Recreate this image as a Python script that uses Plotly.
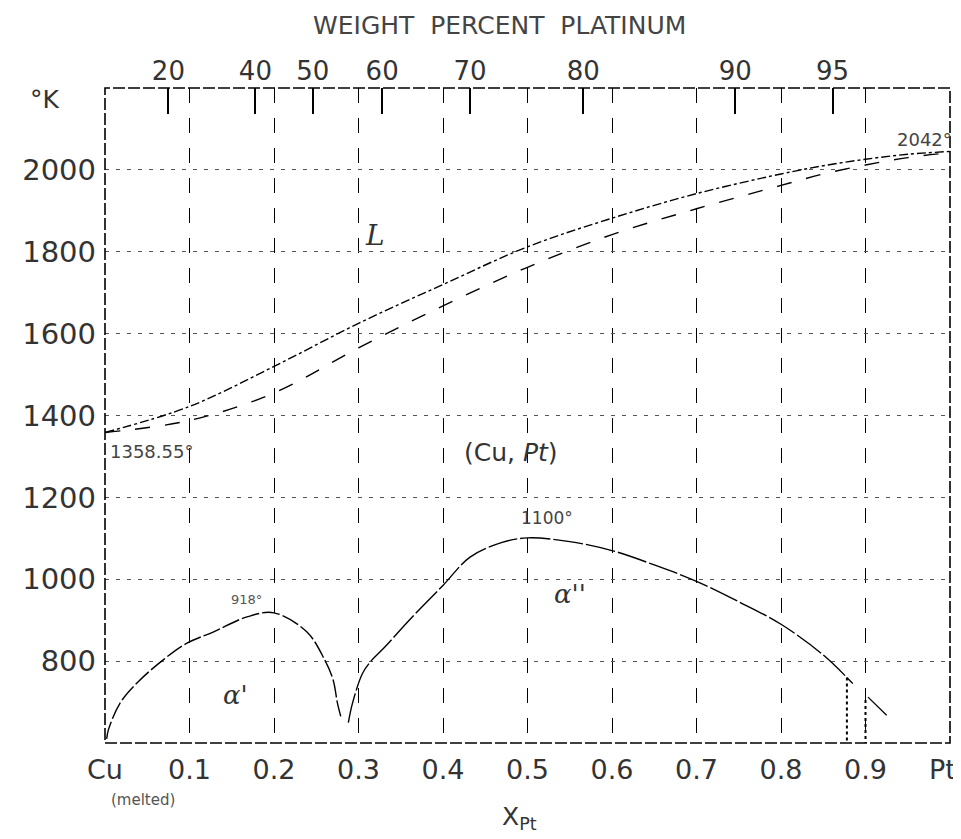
import plotly.graph_objects as go

# ---------------- data ----------------
liquidus_x = [0.0, 0.1, 0.2, 0.3, 0.4, 0.5, 0.6, 0.7, 0.8, 0.85, 0.9, 0.95, 1.0]
liquidus_T = [1358.55, 1422, 1520, 1625, 1720, 1812, 1882, 1942, 1990, 2010, 2026, 2038, 2045]

solidus_x = [0.0, 0.1, 0.2, 0.3, 0.4, 0.5, 0.6, 0.7, 0.8, 0.85, 0.9, 0.95, 1.0]
solidus_T = [1358.55, 1388, 1455, 1565, 1668, 1762, 1842, 1905, 1962, 1990, 2012, 2030, 2042]

alpha1_x = [0.002, 0.004, 0.018, 0.039, 0.07, 0.097, 0.128, 0.168, 0.2, 0.239, 0.26, 0.27, 0.275, 0.279]
alpha1_T = [610, 632, 698, 749, 805, 844, 871, 908, 918, 871, 803, 754, 698, 665]

alpha2_x = [0.288, 0.293, 0.305, 0.316, 0.33, 0.36, 0.4, 0.432, 0.47, 0.5, 0.55, 0.6, 0.65, 0.7, 0.75, 0.8, 0.85, 0.885]
alpha2_T = [650, 698, 771, 803, 832, 900, 985, 1054, 1090, 1101, 1092, 1070, 1035, 995, 945, 890, 815, 745]

bound1_x = [0.878, 0.878]
bound1_T = [760, 600]
bound2_x = [0.9, 0.9]
bound2_T = [705, 600]
diag_x = [0.903, 0.925]
diag_T = [712, 668]

x_tick_vals = [0, 0.1, 0.2, 0.3, 0.4, 0.5, 0.6, 0.7, 0.8, 0.9]
x_tick_text = ["Cu", "0.1", "0.2", "0.3", "0.4", "0.5", "0.6", "0.7", "0.8", "0.9"]
x_end_label = "Pt"
y_tick_vals = [800, 1000, 1200, 1400, 1600, 1800, 2000]
y_tick_text = ["800", "1000", "1200", "1400", "1600", "1800", "2000"]
wt_pct_labels = ["20", "40", "50", "60", "70", "80", "90", "95"]
wt_pct_xpt = [0.075, 0.178, 0.246, 0.328, 0.432, 0.566, 0.746, 0.861]

FONT = "DejaVu Sans"
TXT = "#333333"

fig = go.Figure()

fig.add_trace(go.Scatter(x=liquidus_x, y=liquidus_T, mode="lines",
                         line=dict(color="black", width=1.4, dash="dashdot"),
                         line_shape="spline", showlegend=False, hoverinfo="skip"))
fig.add_trace(go.Scatter(x=solidus_x, y=solidus_T, mode="lines",
                         line=dict(color="black", width=1.4, dash="longdash"),
                         line_shape="spline", showlegend=False, hoverinfo="skip"))
fig.add_trace(go.Scatter(x=alpha1_x, y=alpha1_T, mode="lines",
                         line=dict(color="black", width=1.4, dash="18px,3px"),
                         line_shape="spline", showlegend=False, hoverinfo="skip"))
fig.add_trace(go.Scatter(x=alpha2_x, y=alpha2_T, mode="lines",
                         line=dict(color="black", width=1.4, dash="30px,3px"),
                         line_shape="spline", showlegend=False, hoverinfo="skip"))
for bx, bT in [(bound1_x, bound1_T), (bound2_x, bound2_T)]:
    fig.add_trace(go.Scatter(x=bx, y=bT, mode="lines",
                             line=dict(color="black", width=2, dash="dot"),
                             showlegend=False, hoverinfo="skip"))
fig.add_trace(go.Scatter(x=diag_x, y=diag_T, mode="lines",
                         line=dict(color="black", width=1.3),
                         showlegend=False, hoverinfo="skip"))
# invisible trace to anchor the top (weight percent) axis
fig.add_trace(go.Scatter(x=wt_pct_xpt, y=[1400] * len(wt_pct_xpt), xaxis="x2",
                         mode="markers", marker=dict(opacity=0),
                         showlegend=False, hoverinfo="skip"))

# page body has an 8px margin -> figure is 953x831 so it fits the 961x839 window
fig.update_layout(
    width=953, height=831,
    margin=dict(l=97, r=11, t=80, b=96),
    paper_bgcolor="white", plot_bgcolor="white",
    font=dict(family=FONT, color=TXT),
    xaxis=dict(range=[0, 1], tickvals=x_tick_vals, ticktext=x_tick_text,
               showgrid=True, gridcolor="black", gridwidth=1.4, griddash="longdash",
               zeroline=False, showline=False, ticks="",
               tickfont=dict(size=27, family=FONT, color=TXT), ticklabelstandoff=8),
    xaxis2=dict(range=[0, 1], overlaying="x", side="top", tickvals=wt_pct_xpt,
                ticktext=wt_pct_labels, ticks="inside", ticklen=26, tickwidth=1.5,
                tickcolor="black", showgrid=False, zeroline=False, showline=False,
                tickfont=dict(size=26, family=FONT, color=TXT), ticklabelstandoff=2),
    yaxis=dict(range=[600, 2200], tickvals=y_tick_vals, ticktext=y_tick_text,
               showgrid=True, gridcolor="#555555", gridwidth=1, griddash="4px,7px",
               zeroline=False, showline=False, ticks="",
               tickfont=dict(size=29, family=FONT, color=TXT), ticklabelstandoff=8),
    shapes=[dict(type="rect", xref="paper", yref="paper", x0=0, y0=0, x1=1, y1=1,
                 line=dict(color="black", width=1.6, dash="12px,3px"))],
)

ann = [
    dict(text="WEIGHT  PERCENT  PLATINUM", xref="paper", yref="paper", x=0.467, y=1.121,
         xanchor="center", yanchor="top", showarrow=False, font=dict(size=25, color="#444444")),
    dict(text="°K", xref="paper", yref="paper", x=-0.071, y=0.982,
         xanchor="center", yanchor="middle", showarrow=False, font=dict(size=25, color=TXT)),
    dict(text=x_end_label, xref="paper", yref="paper", x=1.009, y=-0.04,
         xanchor="right", yanchor="middle", showarrow=False, font=dict(size=27, color=TXT)),
    dict(text="X<sub>Pt</sub>", xref="paper", yref="paper", x=0.49, y=-0.142,
         xanchor="center", yanchor="bottom", showarrow=False, font=dict(size=25, color=TXT)),
    dict(text="(melted)", xref="paper", yref="paper", x=0.045, y=-0.087,
         xanchor="center", yanchor="middle", showarrow=False, font=dict(size=15, color="#555555")),
    dict(text="<i>L</i>", x=0.32, y=1840, showarrow=False, font=dict(size=28, family="DejaVu Serif", color=TXT)),
    dict(text="(Cu, <i>Pt</i>)", x=0.48, y=1310, showarrow=False, font=dict(size=25, color=TXT)),
    dict(text="1100°", x=0.523, y=1150, showarrow=False, font=dict(size=17, color="#444444")),
    dict(text="1358.55°", x=0.004, y=1311, xanchor="left", showarrow=False, font=dict(size=18, color="#444444")),
    dict(text="2042°", x=0.97, y=2075, showarrow=False, font=dict(size=18, color="#444444")),
    dict(text="918°", x=0.168, y=950, showarrow=False, font=dict(size=13, color="#555555")),
    dict(text="<i>α'</i>", x=0.154, y=717, showarrow=False, font=dict(size=26, family="DejaVu Serif", color=TXT)),
    dict(text="<i>α''</i>", x=0.55, y=965, showarrow=False, font=dict(size=26, family="DejaVu Serif", color=TXT)),
]
fig.update_layout(annotations=ann)

fig.write_html("out.html")
